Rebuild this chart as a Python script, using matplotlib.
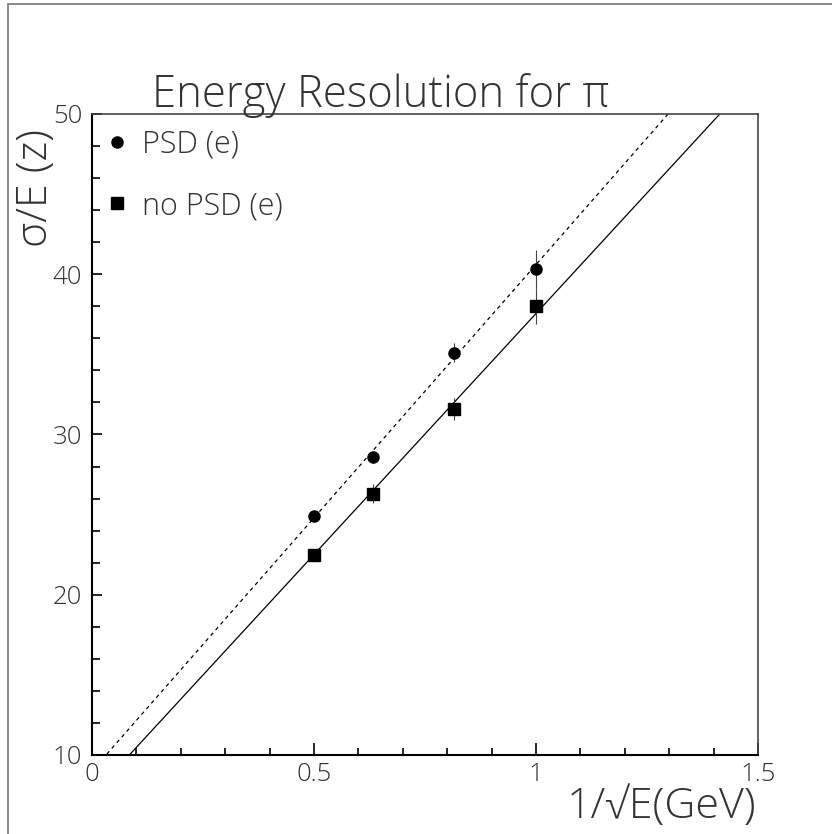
import matplotlib
matplotlib.use("Agg")
import matplotlib.pyplot as plt
from matplotlib.lines import Line2D
from matplotlib.patches import Rectangle
from matplotlib.ticker import MultipleLocator
import numpy as np

# Data
x_vals = [0.5, 0.632, 0.816, 1.0]
psd_vals = [24.9, 28.6, 35.1, 40.3]
psd_err = [0.3, 0.4, 0.6, 1.2]
nopsd_vals = [22.5, 26.3, 31.6, 38.0]
nopsd_err = [0.3, 0.6, 0.7, 1.1]
# fitted lines: intercept, slope
psd_fit = [9.0, 31.6]
nopsd_fit = [7.47, 30.08]
fit_x = [0.0, 1.5]
xticks = [0, 0.5, 1, 1.5]
xtick_labels = ["0", "0.5", "1", "1.5"]
yticks = [10, 20, 30, 40, 50]
title = "Energy Resolution for \u03c0"
xlabel = "1/\u221aE(GeV)"
ylabel = "\u03c3/E (z)"
legend_labels = ["PSD (e)", "no PSD (e)"]

FONT = ["Open Sans", "DejaVu Sans"]
plt.rcParams['font.family'] = FONT
TC = "#333333"

W, H = 832, 834
fig = plt.figure(figsize=(W / 100, H / 100), dpi=100)
fig.patch.set_facecolor("white")

# outer border
fig.add_artist(Rectangle((8 / W, -0.1), 1.2, 1 - 4 / H + 0.1, transform=fig.transFigure,
                         fill=False, edgecolor="#808080", lw=1.3))

L, R, T, B = 92, 758, 114, 755
ax = fig.add_axes([L / W, 1 - B / H, (R - L) / W, (B - T) / H])
ax.set_xlim(0, 1.5)
ax.set_ylim(10, 50)

xs = np.array(fit_x)
ax.plot(xs, psd_fit[0] + psd_fit[1] * xs, color="black", lw=0.9, ls=(0, (3, 3)))
ax.plot(xs, nopsd_fit[0] + nopsd_fit[1] * xs, color="black", lw=0.9)

ax.errorbar(x_vals, psd_vals, yerr=psd_err, fmt="o", color="black", ms=8,
            ecolor="#444444", elinewidth=0.8, capsize=0)
ax.errorbar(x_vals, nopsd_vals, yerr=nopsd_err, fmt="s", color="black", ms=8,
            ecolor="#444444", elinewidth=0.8, capsize=0)

for s in ["top", "right"]:
    ax.spines[s].set_linewidth(1.2)
    ax.spines[s].set_color("#444444")
for s in ["left", "bottom"]:
    ax.spines[s].set_linewidth(1.5)
    ax.spines[s].set_color("black")

ax.set_xticks(xticks)
ax.set_xticklabels(xtick_labels)
ax.set_yticks(yticks)
ax.xaxis.set_minor_locator(MultipleLocator(0.1))
ax.yaxis.set_minor_locator(MultipleLocator(2))
ax.tick_params(axis="x", which="major", direction="in", length=9, width=1.2, pad=5,
               labelsize=18.5, labelcolor=TC)
ax.tick_params(axis="x", which="minor", direction="in", length=5, width=1.2)
ax.tick_params(axis="y", which="major", direction="in", length=7, width=1.2, pad=7,
               labelsize=18.5, labelcolor=TC)
ax.tick_params(axis="y", which="minor", direction="in", length=6, width=1.2)
for lab in ax.get_xticklabels() + ax.get_yticklabels():
    lab.set_fontweight("light")

handles = [Line2D([], [], marker="o", ls="none", color="black", ms=8),
           Line2D([], [], marker="s", ls="none", color="black", ms=8)]
leg = ax.legend(handles, legend_labels, loc="upper left", bbox_to_anchor=(-0.022, 1.01),
                frameon=False, fontsize=22, labelspacing=0.95, handletextpad=0.2,
                handlelength=1.2, borderaxespad=0.3)
for t in leg.get_texts():
    t.set_color(TC)
    t.set_fontweight("light")

fig.text(381 / W, 1 - 107 / H, title, ha="center", va="baseline", fontsize=31.5,
         color=TC, fontweight="light")
fig.text(756 / W, 1 - 818 / H, xlabel, ha="right", va="baseline", fontsize=31,
         color=TC, fontweight="light")
fig.text(36 / W, 1 - 188 / H, ylabel, ha="center", va="center", rotation=90,
         fontsize=31, color=TC, fontweight="light")

fig.savefig("out.png", dpi=100, facecolor="white")
